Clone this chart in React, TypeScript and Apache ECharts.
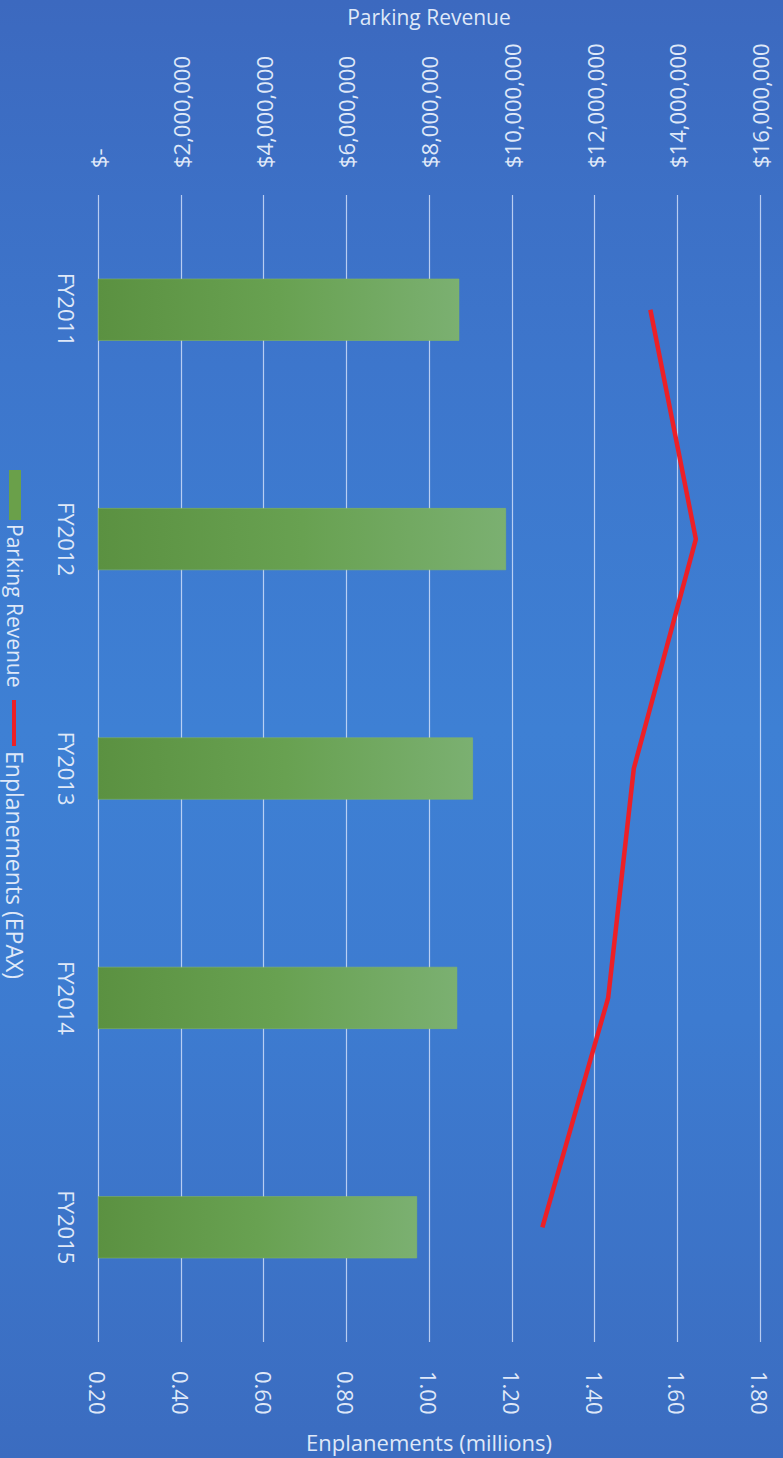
import React, { useEffect, useRef } from "react";
import * as echarts from "echarts";

const categories = ["FY2011", "FY2012", "FY2013", "FY2014", "FY2015"];
const parkingRevenue = [8730000, 9860000, 9060000, 8680000, 7710000];
const enplanements = [1.535, 1.645, 1.495, 1.433, 1.274];

const revenueTicks = { min: 0, max: 16000000, interval: 2000000 };
const enplanementTicks = { min: 0.2, max: 1.8, interval: 0.2 };

const FONT = "'Open Sans', 'Noto Sans', sans-serif";
const TEXT = "#dfe8f8";

export default function App() {
  const ref = useRef<HTMLDivElement>(null);

  useEffect(() => {
    document.body.style.margin = "0";
    if (!ref.current) return;
    const chart = echarts.init(ref.current, null, { renderer: "svg" });
    chart.setOption({
      animation: false,
      textStyle: { fontFamily: FONT },
      grid: { left: 98, right: 23, top: 195, bottom: 116, containLabel: false },
      yAxis: {
        type: "category",
        data: categories,
        inverse: true,
        axisLine: { show: false },
        axisTick: { show: false },
        axisLabel: { rotate: -90, margin: 20, color: TEXT, fontSize: 22, fontFamily: FONT },
        splitLine: { show: false },
      },
      xAxis: [
        {
          type: "value",
          position: "top",
          min: revenueTicks.min,
          max: revenueTicks.max,
          interval: revenueTicks.interval,
          name: "Parking Revenue",
          nameLocation: "middle",
          nameGap: 168,
          nameTextStyle: { color: TEXT, fontSize: 21, fontFamily: FONT },
          axisLine: { show: false },
          axisTick: { show: false },
          axisLabel: {
            rotate: -90,
            margin: 27,
            color: TEXT,
            fontSize: 22,
            fontFamily: FONT,
            formatter: (v: number) => (v === 0 ? "$-" : "$" + v.toLocaleString("en-US")),
          },
          splitLine: { show: true, lineStyle: { color: "rgba(225,235,255,0.75)", width: 1.2 } },
        },
        {
          type: "value",
          position: "bottom",
          min: enplanementTicks.min,
          max: enplanementTicks.max,
          interval: enplanementTicks.interval,
          name: "Enplanements (millions)",
          nameLocation: "middle",
          nameGap: 89,
          nameTextStyle: { color: TEXT, fontSize: 22, fontFamily: FONT },
          axisLine: { show: false },
          axisTick: { show: false },
          axisLabel: {
            rotate: -90,
            margin: 29,
            color: TEXT,
            fontSize: 22,
            fontFamily: FONT,
            formatter: (v: number) => v.toFixed(2),
          },
          splitLine: { show: false },
        },
      ],
      series: [
        {
          name: "Parking Revenue",
          type: "bar",
          xAxisIndex: 0,
          data: parkingRevenue,
          barWidth: 62,
          itemStyle: {
            color: new echarts.graphic.LinearGradient(0, 0, 1, 0, [
              { offset: 0, color: "#5b9141" },
              { offset: 0.5, color: "#68a151" },
              { offset: 1, color: "#7bb071" },
            ]),
            borderColor: "#8cbc5a",
            borderWidth: 0.5,
          },
        },
        {
          name: "Enplanements (EPAX)",
          type: "line",
          xAxisIndex: 1,
          data: enplanements,
          showSymbol: false,
          symbol: "none",
          lineStyle: { color: "#ec2027", width: 4.5 },
        },
      ],
      graphic: [
        { type: "rect", shape: { x: 9, y: 470, width: 12, height: 50 }, style: { fill: "#6aa04a" } },
        {
          type: "text",
          x: 15,
          y: 524,
          rotation: -Math.PI / 2,
          style: { text: "Parking Revenue", fill: TEXT, font: `21px ${FONT}`, align: "left", verticalAlign: "middle" },
        },
        { type: "line", shape: { x1: 14, y1: 700, x2: 14, y2: 746 }, style: { stroke: "#ec2027", lineWidth: 4 } },
        {
          type: "text",
          x: 15,
          y: 751,
          rotation: -Math.PI / 2,
          style: { text: "Enplanements (EPAX)", fill: TEXT, font: `23px ${FONT}`, align: "left", verticalAlign: "middle" },
        },
      ],
    });
    return () => chart.dispose();
  }, []);

  return (
    <div
      ref={ref}
      style={{
        width: 783,
        height: 1458,
        background:
          "linear-gradient(180deg, #3c69bf 0%, #3d76cc 25%, #3e80d4 50%, #3d7bd0 70%, #3b6cc0 100%)",
      }}
    />
  );
}
